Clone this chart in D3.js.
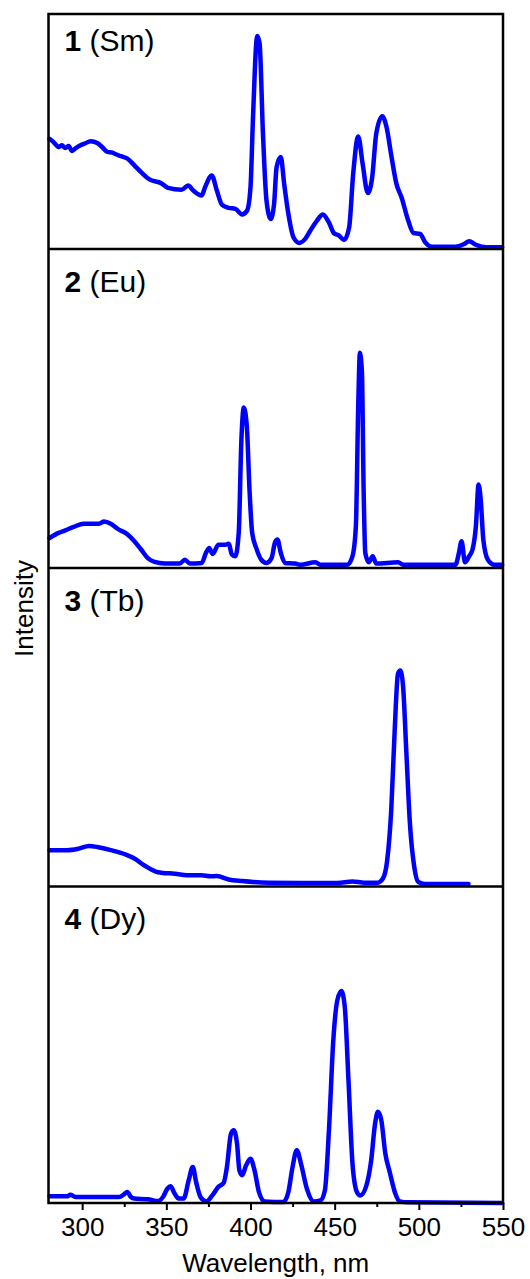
<!DOCTYPE html>
<html>
<head>
<meta charset="utf-8">
<script src="https://cdn.jsdelivr.net/npm/d3@7"></script>
<style>
  html, body { margin: 0; padding: 0; background: #fff; }
  svg { display: block; }
  text { font-family: "Liberation Sans", Arial, sans-serif; fill: #000; }
</style>
</head>
<body>
<div id="chart"></div>
<script>
// x range and ticks (nm)
const xDomain = [280, 550];
const majorTicks = [300, 350, 400, 450, 500, 550];
const minorTicks = [325, 375, 425, 475, 525];

// panel names: [number, element]
const panelNames = [['1', 'Sm'], ['2', 'Eu'], ['3', 'Tb'], ['4', 'Dy']];

// spectra: [wavelength nm, intensity as fraction of panel height]
const sm = [
  [280.6,0.469],[283,0.455],[286,0.434],[288,0.441],[290,0.430],[292,0.438],[294,0.417],
  [296,0.428],[299,0.441],[302,0.450],[305,0.459],[309,0.451],[312,0.433],[315,0.413],
  [318,0.410],[320,0.403],[323,0.395],[327,0.384],[331,0.356],[335,0.327],[340,0.296],
  [347,0.280],[351,0.260],[359,0.252],[363,0.270],[366,0.249],[371,0.228],[373,0.263],
  [377,0.313],[380,0.249],[383,0.189],[387,0.175],[391,0.171],[395,0.147],[398,0.164],
  [400,0.263],[401.5,0.562],[404,0.906],[405.4,0.875],[407.4,0.491],[409.5,0.206],
  [412,0.128],[414,0.192],[415.5,0.348],[418,0.391],[420,0.277],[422.5,0.149],
  [425.5,0.050],[429,0.026],[432.5,0.043],[435.5,0.078],[439.5,0.121],[443,0.147],
  [446.5,0.114],[449.6,0.067],[452.6,0.057],[455.6,0.038],[458.6,0.092],[461,0.320],
  [464,0.479],[466.6,0.363],[469.7,0.238],[472.3,0.306],[474.7,0.491],[478.3,0.565],
  [480.8,0.519],[483.8,0.391],[486.7,0.277],[489.7,0.220],[493.7,0.121],[496.8,0.068],
  [500.8,0.064],[503.8,0.028],[507.8,0.010],[521.8,0.010],[526.8,0.021],[529.9,0.033],
  [533.9,0.018],[540,0.007],[549.5,0.007]
];
const eu = [
  [280.6,0.094],[286,0.110],[290,0.118],[295,0.129],[301,0.139],[310,0.139],[313,0.146],
  [317,0.139],[321,0.123],[327,0.105],[331,0.084],[335,0.058],[339,0.031],[343,0.019],
  [349,0.014],[358,0.014],[361,0.026],[364,0.014],[371,0.016],[373.5,0.047],[375.5,0.063],
  [377.5,0.044],[381,0.073],[385,0.073],[387,0.076],[389,0.042],[391,0.037],[393,0.110],
  [394.6,0.403],[396,0.503],[397.8,0.445],[399.4,0.246],[401,0.110],[403.4,0.063],
  [406.4,0.026],[409.5,0.016],[412.5,0.031],[414.5,0.079],[416,0.089],[418,0.047],
  [420.5,0.016],[426.5,0.014],[429.6,0.010],[438.6,0.018],[441.5,0.010],[457.6,0.010],
  [460.6,0.037],[462.6,0.131],[464,0.508],[465,0.675],[466.2,0.613],[467.2,0.246],
  [468.2,0.047],[470.3,0.018],[472.6,0.037],[474.7,0.014],[487.7,0.018],[490.7,0.010],
  [521.8,0.010],[523.8,0.047],[525.4,0.084],[527.4,0.018],[529.9,0.037],[531.9,0.058],
  [533.9,0.131],[535.5,0.262],[536.9,0.204],[538.3,0.089],[541,0.026],[545,0.010],
  [549.5,0.010]
];
const tb = [
  [280.6,0.114],[291,0.114],[298,0.119],[304,0.127],[309,0.124],[317,0.114],[326,0.100],
  [331,0.088],[337,0.066],[345,0.045],[355,0.040],[365,0.035],[371,0.035],[376,0.032],
  [380,0.033],[387,0.022],[395,0.017],[411,0.012],[431,0.011],[451.6,0.011],[460.6,0.016],
  [467.6,0.012],[475.6,0.012],[478.6,0.024],[481.2,0.082],[483.6,0.240],[485.6,0.483],
  [487.6,0.668],[489,0.678],[490.6,0.631],[492.6,0.420],[494.7,0.198],[497.3,0.061],
  [499.7,0.014],[503.7,0.008],[529.5,0.008]
];
const dy = [
  [280.6,0.021],[291,0.021],[293,0.026],[296,0.019],[311,0.019],[322,0.019],[324.8,0.027],
  [326.8,0.035],[329,0.019],[331,0.014],[339,0.012],[345,0.006],[348,0.019],[350.6,0.045],
  [352.5,0.053],[354.9,0.030],[357.3,0.014],[360.3,0.014],[363.3,0.072],[365.7,0.114],
  [367.7,0.066],[370.3,0.019],[373.7,0.005],[377.3,0.024],[380.9,0.051],[384,0.063],
  [386,0.114],[388.4,0.219],[390,0.230],[392,0.188],[393.4,0.103],[395,0.088],
  [397.4,0.119],[400,0.140],[402.4,0.103],[405,0.035],[408.4,0.005],[419.5,0.003],
  [422.5,0.035],[425,0.114],[427.5,0.167],[430,0.124],[433.5,0.045],[437.5,0.005],
  [441.6,0.008],[444.2,0.040],[446.6,0.230],[449.2,0.515],[451.6,0.641],[454,0.670],
  [456,0.620],[458.2,0.388],[460.6,0.124],[463.2,0.035],[465.2,0.024],[468.6,0.051],
  [471.7,0.135],[474,0.251],[475.7,0.288],[477.7,0.262],[480.1,0.156],[482.7,0.098],
  [485.7,0.035],[488.7,0.005],[493.7,0.002],[549.5,0.000]
];
const spectra = [sm, eu, tb, dy];

// layout
const width = 530, height = 1279;
const left = 48.5, right = 503;
const edges = [14, 249, 568, 886.5, 1203]; // panel borders top to bottom
const labelOffset = [37, 43, 43, 42];

const svg = d3.select('#chart').append('svg')
  .attr('width', width)
  .attr('height', height);

const x = d3.scaleLinear().domain(xDomain).range([left, right]);

const line = d3.line()
  .curve(d3.curveMonotoneX);

spectra.forEach((data, i) => {
  const top = edges[i], bottom = edges[i + 1];
  const y = d3.scaleLinear().domain([0, 1]).range([bottom, top]);

  svg.append('path')
    .datum(data)
    .attr('fill', 'none')
    .attr('stroke', '#0000ff')
    .attr('stroke-width', 4.5)
    .attr('stroke-linejoin', 'round')
    .attr('stroke-linecap', 'round')
    .attr('d', line.x(d => x(d[0])).y(d => y(d[1])));

  // panel label: bold number + element
  const lbl = svg.append('text')
    .attr('x', left + 16)
    .attr('y', top + labelOffset[i])
    .attr('font-size', 30);
  lbl.append('tspan').attr('font-weight', 'bold').text(panelNames[i][0]);
  lbl.append('tspan').text(' (' + panelNames[i][1] + ')');
});

// frame and panel dividers
svg.append('rect')
  .attr('x', left).attr('y', edges[0])
  .attr('width', right - left).attr('height', edges[4] - edges[0])
  .attr('fill', 'none').attr('stroke', '#000').attr('stroke-width', 2.5);

svg.selectAll('line.divider')
  .data(edges.slice(1, -1))
  .join('line')
  .attr('class', 'divider')
  .attr('x1', left).attr('x2', right)
  .attr('y1', d => d).attr('y2', d => d)
  .attr('stroke', '#000').attr('stroke-width', 2.5);

// bottom axis
svg.append('g')
  .attr('transform', `translate(0,${edges[4]})`)
  .call(d3.axisBottom(x).tickValues(majorTicks).tickSize(7).tickPadding(8).tickFormat(d3.format('d')))
  .call(g => g.select('.domain').remove())
  .call(g => g.selectAll('.tick line').attr('stroke', '#000').attr('stroke-width', 2))
  .call(g => g.selectAll('.tick text')
    .attr('font-family', '"Liberation Sans", Arial, sans-serif')
    .attr('font-size', 26).attr('fill', '#000'));

svg.append('g')
  .attr('transform', `translate(0,${edges[4]})`)
  .call(d3.axisBottom(x).tickValues(minorTicks).tickSize(4).tickFormat(''))
  .call(g => g.select('.domain').remove())
  .call(g => g.selectAll('.tick line').attr('stroke', '#000').attr('stroke-width', 2));

// axis titles
svg.append('text')
  .attr('x', (left + right) / 2)
  .attr('y', 1271.5)
  .attr('text-anchor', 'middle')
  .attr('font-size', 26)
  .text('Wavelength, nm');

svg.append('text')
  .attr('transform', `translate(33,${(edges[0] + edges[4]) / 2}) rotate(-90)`)
  .attr('text-anchor', 'middle')
  .attr('font-size', 26)
  .text('Intensity');
</script>
</body>
</html>
